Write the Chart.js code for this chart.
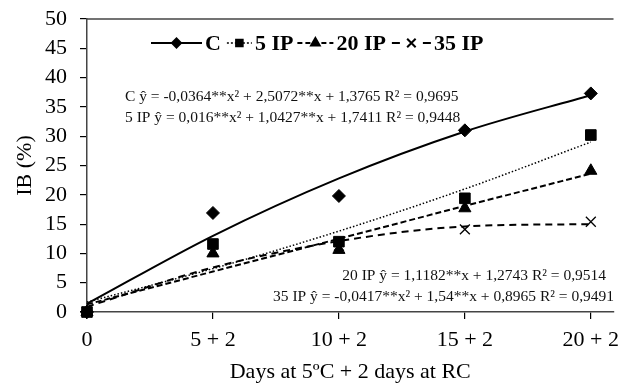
<!DOCTYPE html>
<html>
<head>
<meta charset="utf-8">
<script src="https://cdn.jsdelivr.net/npm/chart.js@4.4.1/dist/chart.umd.min.js"></script>
<style>
    html, body { margin: 0; padding: 0; background: #fff; }
    #wrap { width: 622px; height: 385px; position: relative; }
</style>
</head>
<body>
<div id="wrap"><canvas id="ib-chart"></canvas></div>
<script>
// dias a 5ºC (+2 dias em RC)
const days = [0, 5, 10, 15, 20];
const tickLabels = ['0', '5 + 2', '10 + 2', '15 + 2', '20 + 2'];
const yTicks = [0, 5, 10, 15, 20, 25, 30, 35, 40, 45, 50];
const seriesNames = ['C', '5 IP', '20 IP', '35 IP'];

// valores observados (marcadores)
const obsC = [0, 16.9, 19.8, 31.0, 37.3];
const obs5 = [0, 11.6, 12.0, 19.4, 30.2];
const obs20 = [0, 10.0, 10.6, 17.7, 24.1];
const obs35 = [0, 10.5, 11.3, 14.1, 15.4];

// curvas ajustadas
const fitC = [1.4, 13.0, 22.8, 30.8, 37.0];
const fit5 = [1.7, 7.4, 13.8, 21.0, 29.0];
const fit20 = [1.3, 6.9, 12.5, 18.1, 23.6];
const fit35 = [0.9, 7.6, 12.1, 14.6, 15.0];

const equations = [
    'C ŷ = -0,0364**x² + 2,5072**x + 1,3765 R² = 0,9695',
    '5 IP ŷ = 0,016**x² + 1,0427**x + 1,7411 R² = 0,9448',
    '20 IP ŷ = 1,1182**x + 1,2743 R² = 0,9514',
    '35 IP ŷ = -0,0417**x² + 1,54**x + 0,8965 R² = 0,9491',
];

const SERIF = "'Liberation Serif', 'Times New Roman', serif";
const INK = '#000';

const STYLE = [
    { dash: [], width: 2, point: 'rectRot', r: 6.5, lr: 4.5, legDash: [] },
    { dash: [1.5, 2], width: 1.5, point: 'rect', r: 7.5, lr: 5, legDash: [2, 2] },
    { dash: [6, 3], width: 2, point: 'triangle', r: 7, lr: 5, legDash: [5, 3] },
    { dash: [7, 5], width: 2, point: 'crossRot', r: 7, lr: 6, legDash: [8, 23] },
];

const pts = (ys) => days.map((d, i) => ({ x: d, y: ys[i] }));

const fits = [fitC, fit5, fit20, fit35];
const obs = [obsC, obs5, obs20, obs35];

const datasets = [];
fits.forEach((f, i) => {
    datasets.push({
        label: seriesNames[i] + ' fit', data: pts(f), showLine: true, borderColor: INK,
        borderWidth: STYLE[i].width, borderDash: STYLE[i].dash, pointRadius: 0,
        cubicInterpolationMode: 'monotone', fill: false, order: 2,
    });
});
obs.forEach((o, i) => {
    datasets.push({
        label: seriesNames[i], data: pts(o), showLine: false, pointStyle: STYLE[i].point,
        pointRadius: STYLE[i].r, backgroundColor: INK, borderColor: INK,
        pointBorderWidth: STYLE[i].point === 'crossRot' ? 1.3 : 1, order: 1,
    });
});

// legenda desenhada à mão: linha + marcador + nome
const legendPlugin = {
    id: 'lineLegend',
    afterDraw(chart) {
        const ctx = chart.ctx;
        const y = 43;
        let x = 151;
        const lineLen = [51, 25, 36, 39];
        const gapAfter = [6, 4, 6, 0];
        ctx.save();
        ctx.font = `bold 22px ${SERIF}`;
        ctx.textBaseline = 'middle';
        seriesNames.forEach((name, i) => {
            const s = STYLE[i];
            ctx.strokeStyle = INK;
            ctx.lineWidth = s.width;
            ctx.setLineDash(s.legDash);
            ctx.beginPath();
            ctx.moveTo(x, y);
            ctx.lineTo(x + lineLen[i], y);
            ctx.stroke();
            ctx.setLineDash([]);
            ctx.fillStyle = INK;
            Chart.helpers.drawPoint(ctx, { pointStyle: s.point, radius: s.lr, borderWidth: 1.2, rotation: 0 },
                x + lineLen[i] / 2, y);
            ctx.fillStyle = INK;
            ctx.fillText(name, x + lineLen[i] + 3, y + 1);
            x += lineLen[i] + 3 + ctx.measureText(name).width + gapAfter[i];
        });
        ctx.restore();
    },
};

const extrasPlugin = {
    id: 'extras',
    afterDraw(chart) {
        const { ctx, chartArea: a } = chart;
        ctx.save();
        // borda superior
        ctx.strokeStyle = '#444';
        ctx.lineWidth = 1.5;
        ctx.beginPath();
        ctx.moveTo(a.left, a.top);
        ctx.lineTo(a.right, a.top);
        ctx.stroke();
        // equações
        ctx.fillStyle = '#111';
        ctx.font = `15.5px ${SERIF}`;
        ctx.textBaseline = 'middle';
        const pos = [[125, 97, 'left'], [125, 118, 'left'], [606, 276, 'right'], [614, 297, 'right']];
        equations.forEach((t, i) => {
            ctx.textAlign = pos[i][2];
            ctx.fillText(t, pos[i][0], pos[i][1]);
        });
        ctx.restore();
    },
};

new Chart(document.getElementById('ib-chart'), {
    type: 'scatter',
    data: { datasets },
    options: {
        responsive: true,
        maintainAspectRatio: false,
        animation: false,
        devicePixelRatio: 1,
        layout: { padding: { top: 19, right: 0, left: 0, bottom: 0 } },
        plugins: { legend: { display: false }, tooltip: { enabled: false } },
        clip: false,
        scales: {
            x: {
                type: 'linear', min: 0, max: 20.9,
                afterBuildTicks: (s) => { s.ticks = days.map((v) => ({ value: v })); },
                afterFit: (s) => { s.height = 73; s.paddingLeft = 0; s.paddingRight = 0; },
                ticks: {
                    color: INK, font: { family: SERIF, size: 22 }, padding: 8, maxRotation: 0, autoSkip: false,
                    callback: (v) => tickLabels[days.indexOf(v)],
                },
                grid: { display: true, drawOnChartArea: false, drawTicks: true, tickLength: 7, color: INK, lineWidth: 1.2 },
                border: { display: true, color: '#444', width: 1.5 },
                title: { display: true, text: 'Days at 5ºC + 2 days at RC', color: INK, font: { family: SERIF, size: 22 }, padding: { top: 0, bottom: 0 } },
            },
            y: {
                min: 0, max: 50,
                afterBuildTicks: (s) => { s.ticks = yTicks.map((v) => ({ value: v })); },
                afterFit: (s) => { s.width = 87; s.paddingTop = 0; s.paddingBottom = 0; },
                ticks: { color: INK, font: { family: SERIF, size: 22 }, padding: 13, autoSkip: false },
                grid: { display: true, drawOnChartArea: false, drawTicks: true, tickLength: 7, color: INK, lineWidth: 1.2 },
                border: { display: true, color: '#444', width: 1.5 },
                title: { display: true, text: 'IB (%)', color: INK, font: { family: SERIF, size: 22 }, padding: { top: 12, bottom: 0 } },
            },
        },
    },
    plugins: [legendPlugin, extrasPlugin],
});
</script>
</body>
</html>
